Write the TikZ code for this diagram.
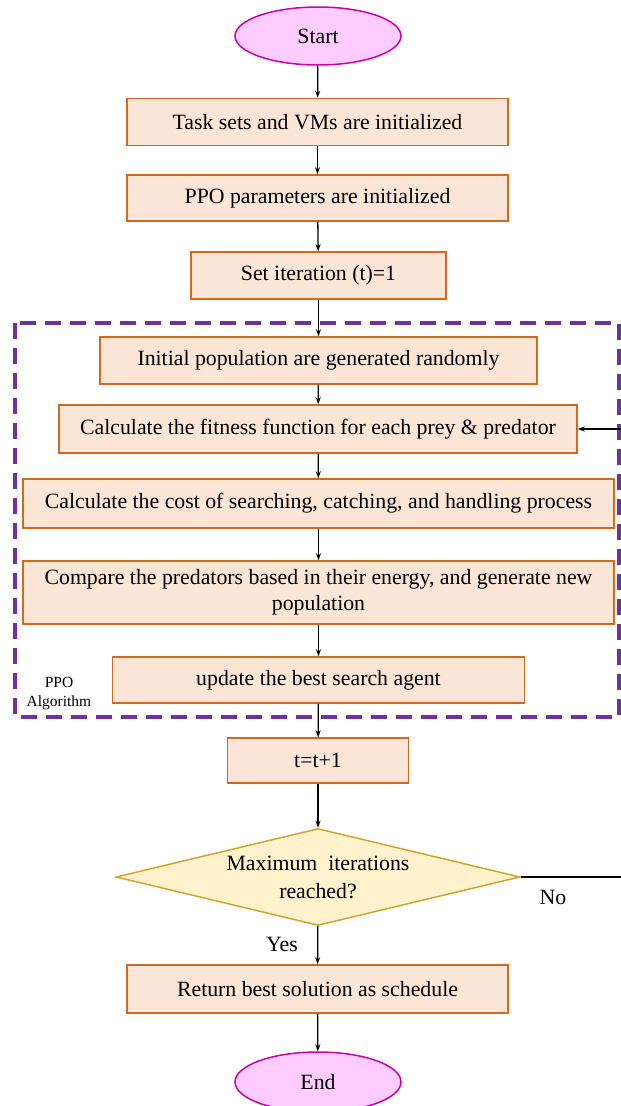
\documentclass[tikz,border=0pt]{standalone}
\usepackage{fontspec}
\setmainfont{Liberation Serif}
\usetikzlibrary{shapes.geometric,arrows.meta}
\definecolor{boxfill}{HTML}{FBE5D6}
\definecolor{boxdraw}{HTML}{D2691E}
\definecolor{ovfill}{HTML}{FFCCFF}
\definecolor{ovdraw}{HTML}{CC00AA}
\definecolor{dmfill}{HTML}{FFF2CC}
\definecolor{dmdraw}{HTML}{D4A52A}
\definecolor{ppo}{HTML}{7030A0}
\tikzset{
  procbox/.style={rectangle, draw=boxdraw, fill=boxfill, line width=1.5pt, inner sep=0pt, align=center, font=\fontsize{21.8}{26}\selectfont},
  terminal/.style={ellipse, draw=ovdraw, fill=ovfill, line width=1.5pt, minimum width=166pt, minimum height=58pt, inner sep=0pt, font=\fontsize{21.8}{26}\selectfont},
  decision/.style={diamond, draw=dmdraw, fill=dmfill, line width=1.5pt, inner sep=0pt, minimum width=404pt, minimum height=97pt, aspect=4.16, align=center, font=\fontsize{21.8}{28}\selectfont},
  flow/.style={line width=1.3pt, -{Stealth[length=7pt,width=5pt]}},
  lbl/.style={font=\fontsize{21.8}{26}\selectfont, inner sep=0pt},
  small/.style={font=\fontsize{15.5}{19}\selectfont, inner sep=0pt, align=center}
}
\begin{document}
\begin{tikzpicture}[x=1pt,y=-1pt]
\useasboundingbox (0,0) rectangle (621,1106);
\fill[white] (0,0) rectangle (621,1106);
% PPO dashed frame
\draw[ppo, line width=4pt, dash pattern=on 16pt off 9pt] (15,323) rectangle (619,717);
\node[small] (ppolbl) at (59,694) {PPO\\Algorithm};

\node[terminal] (start) at (318,36) {Start};
\node[procbox, minimum width=381pt, minimum height=47pt] (b1) at (317.5,122) {Task sets and VMs are initialized};
\node[procbox, minimum width=381pt, minimum height=46pt] (b2) at (317.5,198) {PPO parameters are initialized};
\node[procbox, minimum width=255pt, minimum height=47pt] (b3) at (318.5,275.5) {Set iteration (t)=1};
\node[procbox, minimum width=437pt, minimum height=47pt] (b4) at (318.5,360.5) {Initial population are generated randomly};
\node[procbox, minimum width=518pt, minimum height=48pt] (b5) at (318,429) {Calculate the fitness function for each prey \& predator};
\node[procbox, minimum width=591pt, minimum height=49pt] (b6) at (318.5,503.5) {Calculate the cost of searching, catching, and handling process};
\node[procbox, minimum width=591pt, minimum height=63pt] (b7) at (318.5,592.5) {Compare the predators based in their energy, and generate new\\population};
\node[procbox, minimum width=412pt, minimum height=46pt] (b8) at (318.5,680) {update the best search agent};
\node[procbox, minimum width=181pt, minimum height=45pt] (b9) at (318,760.5) {t=t+1};
\node[decision] (dec) at (318,877) {Maximum\ \ iterations\\reached?};
\node[procbox, minimum width=381pt, minimum height=48pt] (b10) at (317.5,989) {Return best solution as schedule};
\node[terminal, minimum height=60pt] (end) at (318,1082) {End};

\node[lbl] (no) at (553,897) {No};
\node[lbl] (yes) at (282,944) {Yes};

\draw[flow] (start) -- (b1);
\draw[flow] (b1) -- (b2);
\draw[flow] (b2) -- (b3);
\draw[flow] (b3) -- (b4);
\draw[flow] (b4) -- (b5);
\draw[flow] (b5) -- (b6);
\draw[flow] (b6) -- (b7);
\draw[flow] (b7) -- (b8);
\draw[flow] (b8) -- (b9);
\draw[flow] (b9) -- (dec);
\draw[flow] (dec) -- (b10);
\draw[flow] (b10) -- (end);
\coordinate (loopA) at (622.5,877);
\coordinate (loopB) at (622.5,429);
\draw[flow] (dec.east) -- (loopA) -- (loopB) -- (b5.east);
\end{tikzpicture}
\end{document}
